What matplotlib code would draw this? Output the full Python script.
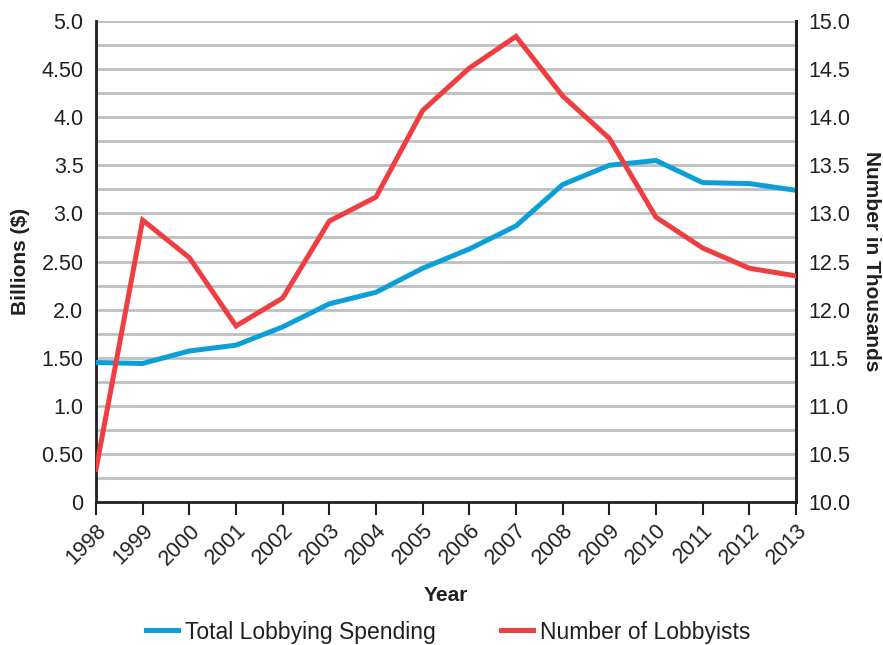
import matplotlib
matplotlib.use('Agg')
import matplotlib.pyplot as plt
import numpy as np

plt.rcParams['font.family'] = ['Liberation Sans', 'DejaVu Sans']

years = list(range(1998, 2014))
spending = [1.45, 1.44, 1.57, 1.63, 1.82, 2.06, 2.18, 2.43, 2.63, 2.87,
            3.30, 3.50, 3.55, 3.32, 3.31, 3.24]
lobbyists = [10.34, 12.93, 12.54, 11.83, 12.12, 12.92, 13.17, 14.07, 14.51, 14.84,
             14.22, 13.78, 12.96, 12.64, 12.43, 12.35]
left_ticks = [0, 0.5, 1.0, 1.5, 2.0, 2.5, 3.0, 3.5, 4.0, 4.5, 5.0]
left_labels = ['0', '0.50', '1.0', '1.50', '2.0', '2.50', '3.0', '3.5', '4.0', '4.50', '5.0']
right_ticks = [10.0, 10.5, 11.0, 11.5, 12.0, 12.5, 13.0, 13.5, 14.0, 14.5, 15.0]

dark = '#231f20'
grid = '#bcbec0'
blue = '#0a9fd9'
red = '#ef3e42'

fig = plt.figure(figsize=(8.83, 6.45), dpi=100)
ax = fig.add_axes([96 / 883, 1 - 502 / 645, 700 / 883, 481 / 645])
ax2 = ax.twinx()

for yv in np.arange(0.25, 5.01, 0.25):
    ax.axhline(yv, color=grid, linewidth=2.0, zorder=1)

l1, = ax.plot(years, spending, color=blue, linewidth=3.6, zorder=3,
              solid_joinstyle='miter', label='Total Lobbying Spending')
l2, = ax2.plot(years, lobbyists, color=red, linewidth=3.6, zorder=3,
               solid_joinstyle='miter', label='Number of Lobbyists')

ax.set_xlim(1998, 2013)
ax.set_ylim(0, 5)
ax2.set_ylim(10, 15)

ax.set_yticks(left_ticks)
ax.set_yticklabels(left_labels)
ax2.set_yticks(right_ticks)
ax2.set_yticklabels([f'{v:.1f}' for v in right_ticks])
ax.set_xticks(years)
ax.set_xticklabels([str(y) for y in years], rotation=45, ha='right',
                   rotation_mode='anchor')

ax.tick_params(axis='x', length=9, width=1.5, color=dark, labelsize=15.5,
               labelcolor=dark, pad=4)
ax.tick_params(axis='y', length=0, labelsize=15.5, labelcolor=dark, pad=9)
ax2.tick_params(axis='y', length=0, labelsize=15.5, labelcolor=dark, pad=9)

for a in (ax, ax2):
    a.spines['top'].set_visible(False)
    for s in ('left', 'right', 'bottom'):
        a.spines[s].set_color(dark)
        a.spines[s].set_linewidth(2)
ax2.spines['left'].set_visible(False)
ax2.spines['bottom'].set_visible(False)

ax.set_ylabel('Billions ($)', fontsize=15, fontweight='bold', color=dark, labelpad=8)
ax2.set_ylabel('Number in Thousands', fontsize=15, fontweight='bold', color=dark,
               rotation=-90, labelpad=22)
ax.set_xlabel('Year', fontsize=15, fontweight='bold', color=dark, labelpad=12)

fig.legend(handles=[l1, l2], loc='center', bbox_to_anchor=(0.508, 1 - 632 / 645),
           ncol=2, frameon=False, fontsize=16.5, handlelength=1.4, handletextpad=0.3,
           columnspacing=2.85, labelcolor=dark)

fig.savefig('out.png', dpi=100)
